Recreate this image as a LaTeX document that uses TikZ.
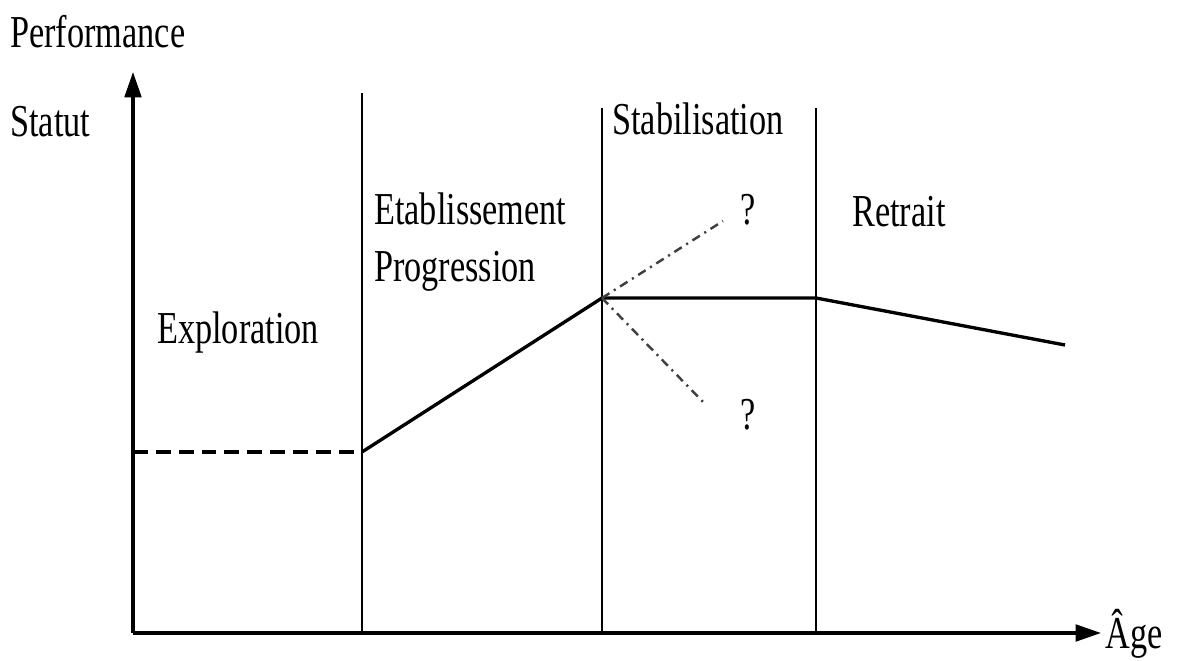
\documentclass[tikz,border=0pt]{standalone}
\usepackage{fontspec}
\setmainfont{Liberation Serif}
\usetikzlibrary{arrows.meta}

\begin{document}
\begin{tikzpicture}[x=0.02cm,y=-0.02cm,
  every node/.style={font=\fontsize{26}{30}\selectfont,xscale=0.75,transform shape,inner sep=0pt},
  axis/.style={line width=1.8pt,-{Triangle[length=14.5pt,width=9.5pt]}},
  phase/.style={line width=1.3pt},
  curve/.style={line width=1.9pt},
  guess/.style={line width=1.4pt,black!75,dash pattern=on 5pt off 3pt on 1.2pt off 3pt}]
\useasboundingbox (0,0) rectangle (1179,661);
\coordinate (O) at (133,633);
\coordinate (ytop) at (133,72);
\coordinate (xend) at (1101,633);
\coordinate (a1) at (362,633);
\coordinate (a2) at (362,93);
\coordinate (b1) at (602,633);
\coordinate (b2) at (602,108);
\coordinate (c1) at (816,633);
\coordinate (c2) at (816,108);
\coordinate (s0) at (133,452);
\coordinate (s1) at (362,452);
\coordinate (s2) at (602,298);
\coordinate (s3) at (816,298);
\coordinate (s4) at (1065,345);
\coordinate (up) at (723,221);
\coordinate (dn) at (706,405);
\draw[axis] (O)--(ytop);
\draw[axis] (O)--(xend);
\draw[phase] (a1)--(a2);
\draw[phase] (b1)--(b2);
\draw[phase] (c1)--(c2);
\draw[curve,dash pattern=on 8.5pt off 4.5pt] (s0)--(s1);
\draw[curve] (s1)--(s2)--(s3)--(s4);
\draw[guess] (s2)--(up);
\draw[guess] (s2)--(dn);
\node[anchor=base west] (perf) at (10,48) {Performance};
\node[anchor=base west] (statut) at (10,137) {Statut};
\node[anchor=base west] (age) at (1105,648) {Âge};
\node[anchor=base west] (explo) at (157,344) {Exploration};
\node[anchor=base west] (etab) at (374,225) {Etablissement};
\node[anchor=base west] (prog) at (374,282) {Progression};
\node[anchor=base west] (stab) at (612,135) {Stabilisation};
\node[anchor=base west] (retrait) at (852,227) {Retrait};
\node[anchor=base west] (qup) at (740,225) {?};
\node[anchor=base west] (qdn) at (740,430) {?};
\end{tikzpicture}
\end{document}
